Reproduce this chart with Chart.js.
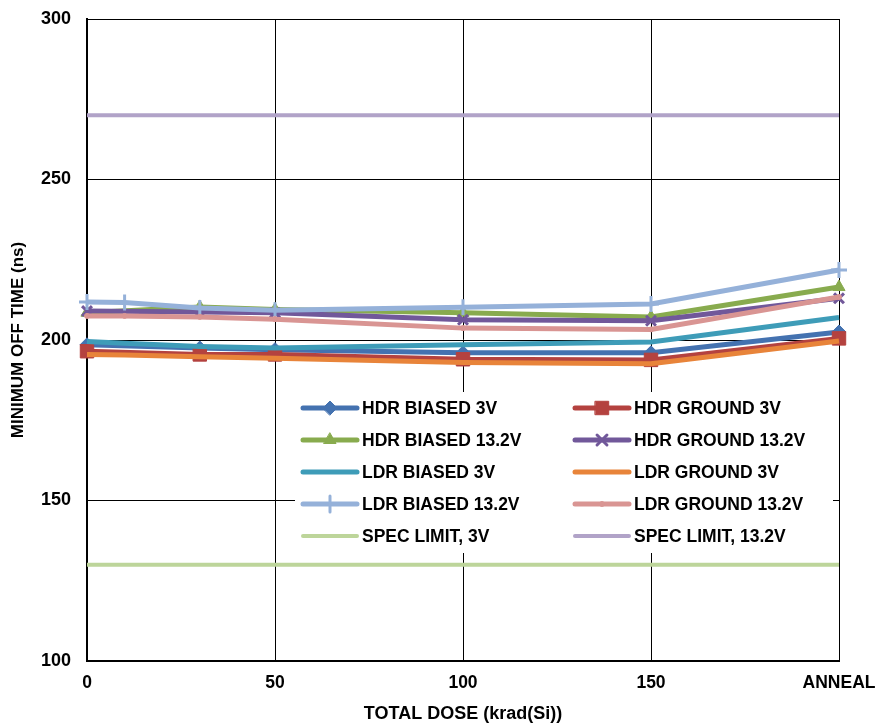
<!DOCTYPE html>
<html>
<head>
<meta charset="utf-8">
<script src="https://cdn.jsdelivr.net/npm/chart.js@4.4.0/dist/chart.umd.min.js"></script>
<style>
  html, body { margin: 0; padding: 0; background: #fff; }
  #wrap { width: 875px; height: 725px; position: relative; }
</style>
</head>
<body>
<div id="wrap"><canvas id="myChart" width="875" height="725"></canvas></div>
<script>
// dose steps, ANNEAL plotted at 200
const hdrDose = [0, 30, 50, 100, 150, 200];
const ldrDose = [0, 10, 30, 50, 100, 150, 200];
const xTicks = { 0: '0', 50: '50', 100: '100', 150: '150', 200: 'ANNEAL' };

const hdrBiased3 = [198.5, 197.5, 197.0, 196.0, 196.0, 202.5];
const hdrGround3 = [196.5, 195.5, 195.5, 194.0, 193.8, 200.5];
const hdrBiased13 = [208.5, 210.3, 209.5, 208.5, 207.2, 216.5];
const hdrGround13 = [209.0, 208.7, 208.5, 206.3, 206.0, 213.0];
const ldrBiased3 = [199.5, 199.0, 198.0, 197.5, 198.5, 199.4, 207.0];
const ldrGround3 = [195.5, 195.3, 194.8, 194.3, 193.0, 192.6, 199.7];
const ldrBiased13 = [211.8, 211.7, 210.0, 209.3, 210.2, 211.2, 221.8];
const ldrGround13 = [207.5, 207.5, 207.2, 206.5, 203.7, 203.3, 213.4];
const specLimit3 = 130;
const specLimit13 = 270;

const FONT = "'Liberation Sans', Arial, sans-serif";

function pts(xs, ys) { return ys.map((v, i) => ({ x: xs[i], y: v })); }
function flat(v) { return [{ x: 0, y: v }, { x: 200, y: v }]; }

function series(label, data, color, style, radius, bw, extra) {
  return Object.assign({
    label: label,
    data: data,
    borderColor: color,
    backgroundColor: color,
    pointBackgroundColor: color,
    pointBorderColor: color,
    borderWidth: 5,
    pointStyle: style,
    pointRadius: radius,
    pointHoverRadius: radius,
    pointBorderWidth: bw,
    tension: 0,
    clip: false
  }, extra || {});
}

const datasets = [
  series('HDR BIASED 3V', pts(hdrDose, hdrBiased3), '#4472B0', 'rectRot', 7, 1),
  series('HDR GROUND 3V', pts(hdrDose, hdrGround3), '#B4423F', 'rect', 9.5, 1),
  series('HDR BIASED 13.2V', pts(hdrDose, hdrBiased13), '#88AB4E', 'triangle', 7, 1),
  series('HDR GROUND 13.2V', pts(hdrDose, hdrGround13), '#71589A', 'crossRot', 7, 3),
  series('LDR BIASED 3V', pts(ldrDose, ldrBiased3), '#3E9CB8', 'circle', 0, 0),
  series('LDR GROUND 3V', pts(ldrDose, ldrGround3), '#E8843A', 'circle', 0, 0),
  series('LDR BIASED 13.2V', pts(ldrDose, ldrBiased13), '#95B1D9', 'cross', 8, 3),
  series('LDR GROUND 13.2V', pts(ldrDose, ldrGround13), '#D99593', 'circle', 2.5, 1),
  series('SPEC LIMIT, 3V', flat(specLimit3), '#BDD59A', 'circle', 0, 0, { borderWidth: 4 }),
  series('SPEC LIMIT, 13.2V', flat(specLimit13), '#B1A3C8', 'circle', 0, 0, { borderWidth: 4 })
];
// later series on top, like the original
datasets.forEach((d, i) => { d.order = 20 - i; });

// legend drawn inside the plot, two columns
const legendBox = {
  id: 'legendBox',
  afterDraw(chart) {
    const ctx = chart.ctx;
    ctx.save();
    ctx.fillStyle = '#fff';
    ctx.fillRect(295, 392, 538, 161);
    const cols = [303, 575];
    const rowY = [408, 440, 472, 504, 536];
    ctx.font = 'bold 17.5px ' + FONT;
    ctx.textBaseline = 'middle';
    chart.data.datasets.forEach((d, i) => {
      const x0 = cols[i % 2];
      const y = rowY[Math.floor(i / 2)];
      ctx.strokeStyle = d.borderColor;
      ctx.lineWidth = d.borderWidth;
      ctx.lineCap = 'round';
      ctx.beginPath();
      ctx.moveTo(x0, y);
      ctx.lineTo(x0 + 54, y);
      ctx.stroke();
      if (d.pointRadius > 0) {
        ctx.fillStyle = d.pointBackgroundColor;
        ctx.strokeStyle = d.pointBorderColor;
        ctx.lineWidth = d.pointBorderWidth;
        Chart.helpers.drawPoint(ctx, {
          pointStyle: d.pointStyle, radius: d.pointRadius,
          borderWidth: d.pointBorderWidth, rotation: 0
        }, x0 + 27, y);
      }
      ctx.fillStyle = '#000';
      ctx.fillText(d.label, x0 + 59, y + 1);
    });
    ctx.restore();
  }
};

const chart = new Chart(document.getElementById('myChart'), {
  type: 'line',
  data: { datasets: datasets },
  options: {
    responsive: false,
    animation: false,
    events: [],
    layout: { padding: { left: 0, right: 36, top: 19, bottom: 0 } },
    plugins: { legend: { display: false }, tooltip: { enabled: false } },
    scales: {
      x: {
        type: 'linear',
        min: 0, max: 200,
        afterFit(s) { s.height = 64; s.paddingLeft = 0; s.paddingRight = 0; },
        ticks: {
          stepSize: 50,
          padding: 12,
          color: '#000',
          font: { family: FONT, size: 17.5, weight: 'bold' },
          callback: v => xTicks[v] !== undefined ? xTicks[v] : ''
        },
        grid: { color: '#000', lineWidth: 1, drawTicks: false },
        border: { color: '#000', width: 2 },
        title: {
          display: true, text: 'TOTAL DOSE (krad(Si))', color: '#000',
          font: { family: FONT, size: 18, weight: 'bold' },
          padding: { top: 10, bottom: 0 }
        }
      },
      y: {
        min: 100, max: 300,
        afterFit(s) { s.width = 87; s.paddingTop = 0; s.paddingBottom = 0; },
        ticks: {
          stepSize: 50,
          padding: 16,
          color: '#000',
          font: { family: FONT, size: 18, weight: 'bold' }
        },
        grid: { color: '#000', lineWidth: 1, drawTicks: false },
        border: { color: '#000', width: 2 },
        title: {
          display: true, text: 'MINIMUM OFF TIME (ns)', color: '#000',
          font: { family: FONT, size: 17, weight: 'bold' },
          padding: { top: 8, bottom: 0 }
        }
      }
    }
  },
  plugins: [legendBox]
});
</script>
</body>
</html>
